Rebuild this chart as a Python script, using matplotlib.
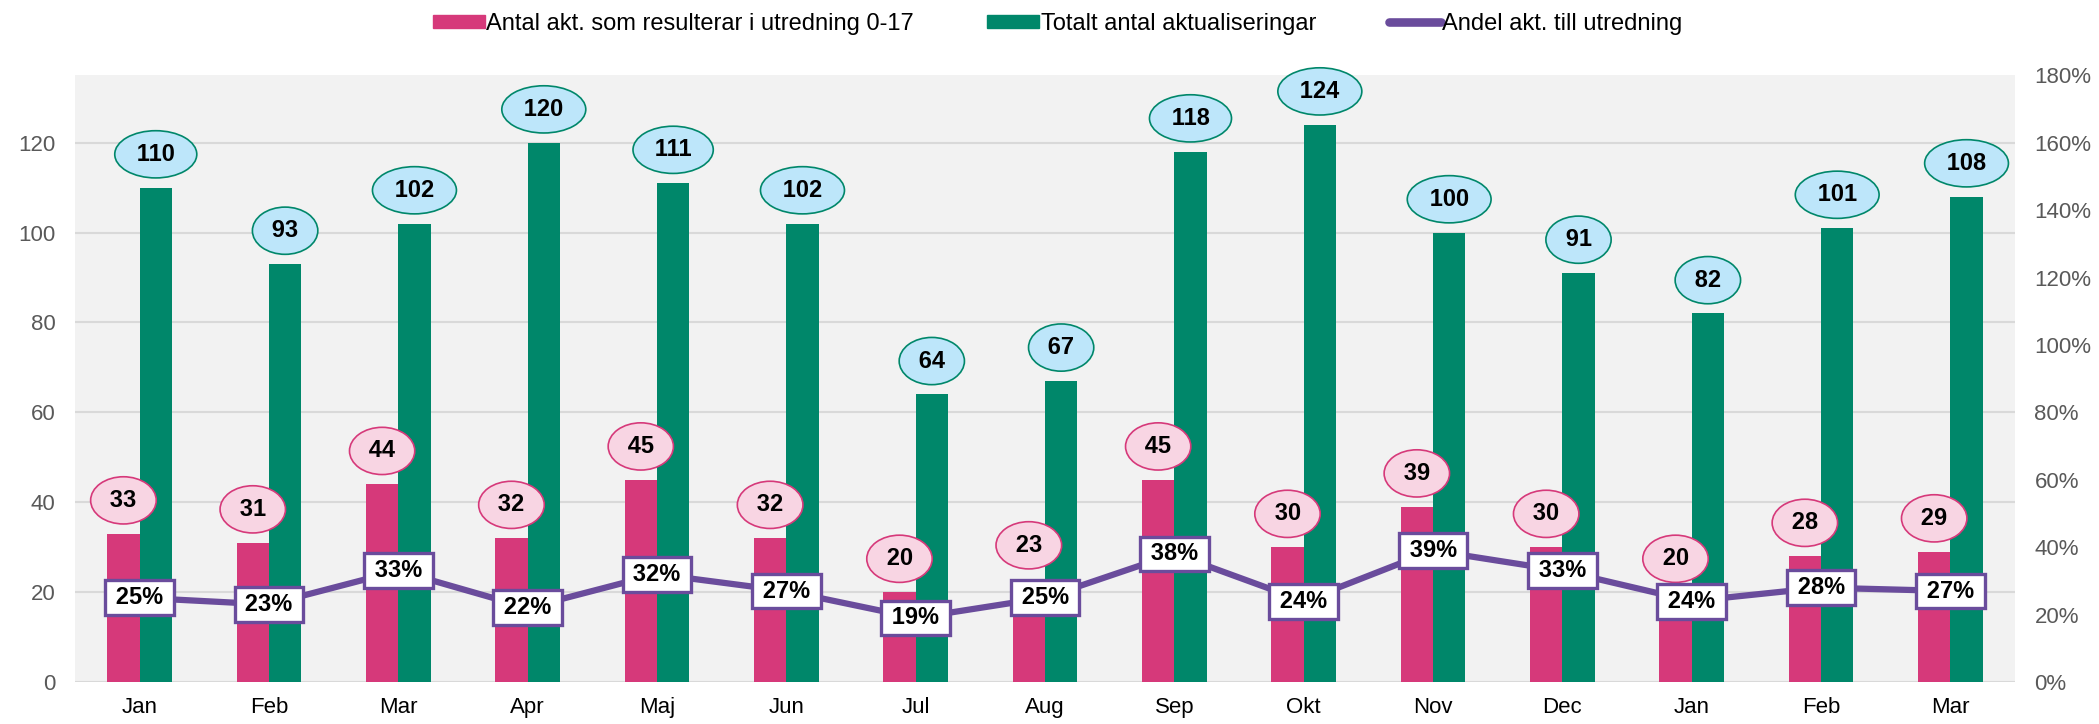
import matplotlib.pyplot as plt
import numpy as np
from matplotlib.lines import Line2D
from matplotlib.patches import Patch
from matplotlib.ticker import FuncFormatter

plt.rcParams['font.family'] = ['Liberation Sans', 'DejaVu Sans']

manader = ['Jan', 'Feb', 'Mar', 'Apr', 'Maj', 'Jun', 'Jul', 'Aug', 'Sep', 'Okt',
           'Nov', 'Dec', 'Jan', 'Feb', 'Mar']
utredning = [33, 31, 44, 32, 45, 32, 20, 23, 45, 30, 39, 30, 20, 28, 29]
totalt = [110, 93, 102, 120, 111, 102, 64, 67, 118, 124, 100, 91, 82, 101, 108]
andel = [25, 23, 33, 22, 32, 27, 19, 25, 38, 24, 39, 33, 24, 28, 27]

rosa = '#D6397A'
gron = '#00876A'
lila = '#6A4C9C'

x = np.arange(len(manader))
bredd = 0.25

fig = plt.figure(figsize=(20.99, 7.24), dpi=100)
ax = fig.add_axes([0.0357, 0.058, 0.9243, 0.838])
ax.set_facecolor('#F2F2F2')

ax.bar(x - bredd / 2, utredning, bredd, color=rosa, zorder=2)
ax.bar(x + bredd / 2, totalt, bredd, color=gron, zorder=2)

for i in range(len(x)):
    ax.annotate(f'\u2009{utredning[i]}\u2009', (x[i] - bredd / 2, utredning[i]),
                xytext=(0, 24), textcoords='offset points',
                ha='center', va='center', fontsize=17, fontweight='bold',
                bbox=dict(boxstyle='ellipse,pad=0.22', fc='#F8D5E3', ec=rosa, lw=1.2),
                zorder=4)
    ax.annotate(f'\u2009{totalt[i]}\u2009', (x[i] + bredd / 2, totalt[i]),
                xytext=(0, 24), textcoords='offset points',
                ha='center', va='center', fontsize=17, fontweight='bold',
                bbox=dict(boxstyle='ellipse,pad=0.22', fc='#BDE6FA', ec=gron, lw=1.2),
                zorder=4)

ax.set_xlim(-0.5, len(x) - 0.5)
ax.set_ylim(0, 135)
ax.set_yticks(range(0, 121, 20))
ax.set_xticks(x)
ax.set_xticklabels(manader)
ax.yaxis.grid(True, color='#D9D9D9', lw=1.5, zorder=0)
ax.set_axisbelow(True)
for s in ax.spines.values():
    s.set_visible(False)
ax.tick_params(axis='both', length=0, labelsize=16)
ax.tick_params(axis='y', colors='#595959', pad=14)
ax.tick_params(axis='x', colors='black', pad=11)

ax2 = ax.twinx()
ax2.plot(x, np.array(andel) / 100, color=lila, lw=4.5, zorder=3)
for i in range(len(x)):
    ax2.annotate(f'\u2009{andel[i]}%\u2009', (x[i], andel[i] / 100),
                 ha='center', va='center', fontsize=17, fontweight='bold',
                 bbox=dict(boxstyle='square,pad=0.25', fc='white', ec=lila, lw=2.4),
                 zorder=5)
ax2.set_ylim(0, 1.8)
ax2.set_yticks(np.arange(0, 1.81, 0.2))
ax2.yaxis.set_major_formatter(FuncFormatter(lambda v, p: f'{v * 100:.0f}%'))
for s in ax2.spines.values():
    s.set_visible(False)
ax2.tick_params(axis='y', length=0, labelsize=16, colors='#595959', pad=14)

handles = [Patch(color=rosa), Patch(color=gron),
           Line2D([0], [0], color=lila, lw=6.2, solid_capstyle='round')]
labels = ['Antal akt. som resulterar i utredning 0-17', 'Totalt antal aktualiseringar',
          'Andel akt. till utredning']
fig.legend(handles, labels, loc='center', bbox_to_anchor=(0.504, 0.967), ncol=3,
           frameon=False, fontsize=17, handlelength=2.2, handleheight=0.47,
           handletextpad=0.05, columnspacing=3.1)

fig.savefig('out.png', dpi=100)
